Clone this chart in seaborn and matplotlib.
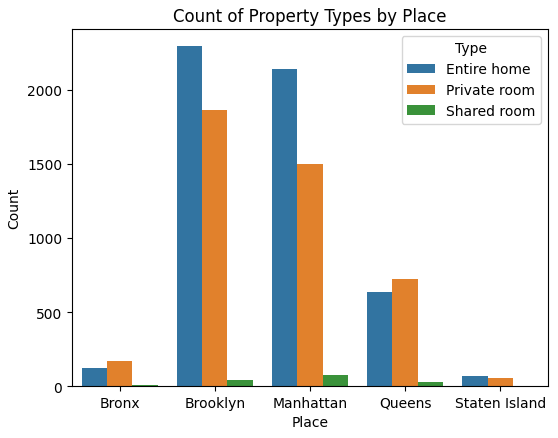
import pandas as pd
import matplotlib
matplotlib.use("Agg")
import matplotlib.pyplot as plt
import seaborn as sns

places = ["Bronx", "Brooklyn", "Manhattan", "Queens", "Staten Island"]
types = ["Entire home", "Private room", "Shared room"]
entire_home = [121, 2296, 2139, 633, 69]
private_room = [173, 1860, 1497, 720, 54]
shared_room = [7, 42, 76, 29, 0]

# long format for seaborn hue
df = pd.DataFrame({
    "Place": places * 3,
    "Type": [types[0]] * 5 + [types[1]] * 5 + [types[2]] * 5,
    "Count": entire_home + private_room + shared_room,
})

fig, ax = plt.subplots(figsize=(5.58, 4.39), dpi=100)
sns.barplot(data=df, x="Place", y="Count", hue="Type", order=places,
            hue_order=types, ax=ax)
ax.set_title("Count of Property Types by Place")
ax.set_xlabel("Place")
ax.set_ylabel("Count")
ax.legend(title="Type", loc="upper right")

plt.subplots_adjust(left=0.129, right=0.982, top=0.932, bottom=0.118)
plt.savefig("out.png")
